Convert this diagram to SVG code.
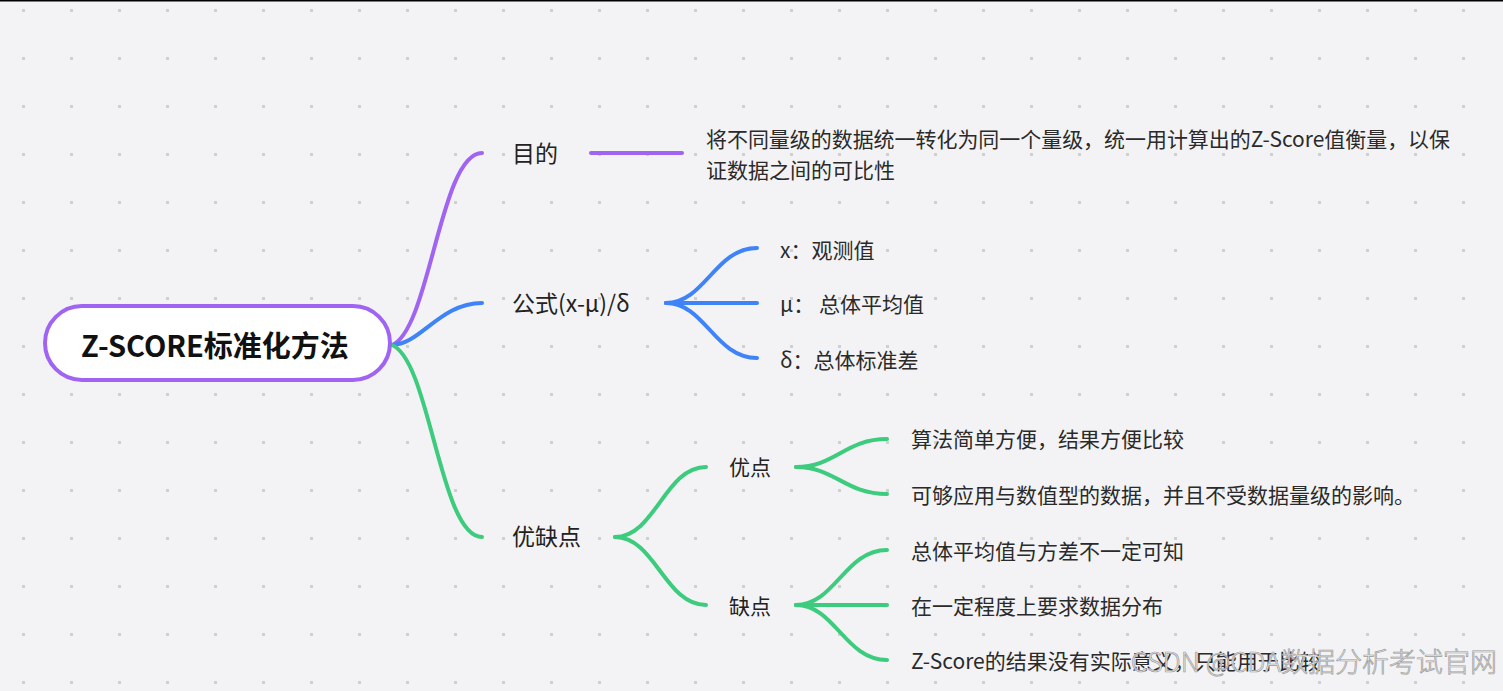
<svg xmlns="http://www.w3.org/2000/svg" width="1503" height="691" viewBox="0 0 1503 691">
  <defs>
    <pattern id="dots" patternUnits="userSpaceOnUse" x="0" y="0" width="48" height="48">
      <rect x="22" y="9" width="3" height="3" fill="#d0d0d2"/>
    </pattern>
    <style>
      text { font-family: "Noto Sans CJK SC", "Noto Sans", sans-serif; fill: #222; }
      .root { font-size: 29px; font-weight: 700; fill: #111; }
      .l1 { font-size: 23px; }
      .l2 { font-size: 21px; }
      .leaf { font-size: 21px; fill: #2a2a2a; }
      .c { fill: none; stroke-width: 4; stroke-linecap: round; }
      .p { stroke: #a064f2; }
      .b { stroke: #3f83f8; }
      .g { stroke: #3dcb7e; }
      .wm { font-size: 27px; font-weight: 300; fill: #ececee; stroke: #9c9c9c; stroke-width: 0.7; }
    </style>
  </defs>
  <rect x="0" y="0" width="1503" height="691" fill="#f3f3f5"/>
  <rect x="0" y="0" width="1503" height="691" fill="url(#dots)"/>
  <rect x="0" y="0" width="1503" height="1.5" fill="#000"/>

  <g id="connectors">
    <path class="c p" d="M392 345 C430 330 440 153 482 153"/>
    <path class="c b" d="M392 345 C420 345 440 303 482 303"/>
    <path class="c g" d="M392 345 C430 360 440 537 482 537"/>
    <path class="c p" d="M591 153 L682 153"/>
    <path class="c b" d="M666 303 C705 303 715 248 757 248"/>
    <path class="c b" d="M666 303 L757 303"/>
    <path class="c b" d="M666 303 C705 303 715 358 757 358"/>
    <path class="c g" d="M615 537 C655 537 665 467 706 467"/>
    <path class="c g" d="M615 537 C655 537 665 605 706 605"/>
    <path class="c g" d="M796 467 C835 467 845 439 887 439"/>
    <path class="c g" d="M796 467 C835 467 845 494 887 494"/>
    <path class="c g" d="M796 605 C835 605 845 550 887 550"/>
    <path class="c g" d="M796 605 L887 605"/>
    <path class="c g" d="M796 605 C835 605 845 660 887 660"/>
  </g>

  <g id="root">
    <rect x="45" y="306" width="345" height="74" rx="37" fill="#fff" stroke="#a064f2" stroke-width="4"/>
    <text class="root" x="215" y="357" text-anchor="middle">Z-SCORE标准化方法</text>
  </g>

  <g id="n-mudi"><text class="l1" x="512" y="162">目的</text></g>
  <g id="n-mudi-desc">
    <text class="leaf" x="706" y="147" textLength="744" lengthAdjust="spacingAndGlyphs">将不同量级的数据统一转化为同一个量级，统一用计算出的Z-Score值衡量，以保</text>
    <text class="leaf" x="706" y="178">证数据之间的可比性</text>
  </g>

  <g id="n-gongshi"><text class="l1" x="512" y="312">公式(x-μ)/δ</text></g>
  <g id="n-x"><text class="leaf" x="780" y="258">x：观测值</text></g>
  <g id="n-mu"><text class="leaf" x="780" y="312">μ： 总体平均值</text></g>
  <g id="n-delta"><text class="leaf" x="780" y="368">δ：总体标准差</text></g>

  <g id="n-youquedian"><text class="l1" x="512" y="545">优缺点</text></g>
  <g id="n-youdian"><text class="l2" x="729" y="475">优点</text></g>
  <g id="n-quedian"><text class="l2" x="729" y="614">缺点</text></g>

  <g id="n-y1"><text class="leaf" x="911" y="447">算法简单方便，结果方便比较</text></g>
  <g id="n-y2"><text class="leaf" x="911" y="503">可够应用与数值型的数据，并且不受数据量级的影响。</text></g>
  <g id="n-q1"><text class="leaf" x="911" y="559">总体平均值与方差不一定可知</text></g>
  <g id="n-q2"><text class="leaf" x="911" y="614">在一定程度上要求数据分布</text></g>
  <g id="n-q3"><text class="leaf" x="911" y="669">Z-Score的结果没有实际意义，只能用于比较</text></g>

  <text class="wm" x="1497" y="672" text-anchor="end">CSDN @CDA数据分析考试官网</text>
</svg>
